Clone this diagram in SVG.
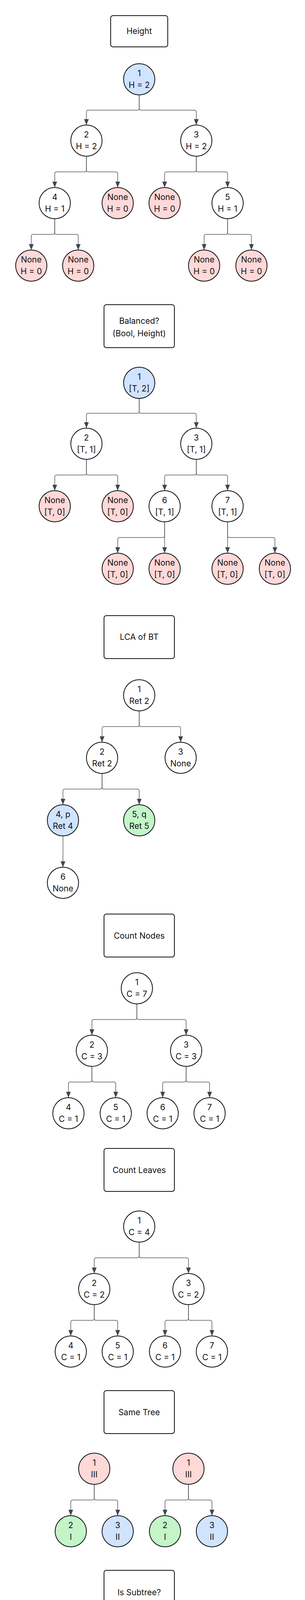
<svg xmlns="http://www.w3.org/2000/svg" width="780" height="4920" viewBox="0 0 780 4920">
<defs>
<style>
text{font-family:Inter,"Liberation Sans",sans-serif;font-size:21px;text-anchor:middle;fill:#111}
.n{fill:#fff;stroke:#111;stroke-width:2}
.b{fill:#d0e3ff}.p{fill:#ffd8d8}.g{fill:#c4f5c9}
.box{fill:#fff;stroke:#111;stroke-width:2}
.dk{fill:#6b7280;stroke:#222;stroke-width:2}
.w{fill:#fff}
.e{fill:none;stroke:#555b63;stroke-width:1.5}
.lbl{font-size:15px;font-weight:600;fill:#3a3f46}
</style>
<marker id="ah" viewBox="0 0 15 12" refX="15" refY="6" markerWidth="15" markerHeight="12" markerUnits="userSpaceOnUse" orient="auto">
<path d="M0,0 L15,6 L0,12 z" fill="#3f454d"/>
</marker>
</defs>
<rect width="780" height="4920" fill="#fff"/>

<g id="connectors">
<path class="e" marker-end="url(#ah)" d="M356,243 V277 Q356,282 351,282 H226 Q221,282 221,287 V320"/>
<path class="e" marker-end="url(#ah)" d="M356,243 V277 Q356,282 361,282 H497 Q502,282 502,287 V320"/>
<path class="e" marker-end="url(#ah)" d="M221,400 V435 Q221,440 216,440 H145 Q140,440 140,445 V480"/>
<path class="e" marker-end="url(#ah)" d="M221,400 V435 Q221,440 226,440 H296 Q301,440 301,445 V480"/>
<path class="e" marker-end="url(#ah)" d="M502,400 V435 Q502,440 497,440 H426 Q421,440 421,445 V480"/>
<path class="e" marker-end="url(#ah)" d="M502,400 V435 Q502,440 507,440 H577 Q582,440 582,445 V480"/>
<path class="e" marker-end="url(#ah)" d="M140,560 V595 Q140,600 135,600 H85 Q80,600 80,605 V640"/>
<path class="e" marker-end="url(#ah)" d="M140,560 V595 Q140,600 145,600 H195 Q200,600 200,605 V640"/>
<path class="e" marker-end="url(#ah)" d="M582,560 V595 Q582,600 577,600 H527 Q522,600 522,605 V640"/>
<path class="e" marker-end="url(#ah)" d="M582,560 V595 Q582,600 587,600 H638 Q643,600 643,605 V640"/>
<path class="e" marker-end="url(#ah)" d="M356,1020 V1053 Q356,1058 351,1058 H226 Q221,1058 221,1063 V1096"/>
<path class="e" marker-end="url(#ah)" d="M356,1020 V1053 Q356,1058 361,1058 H497 Q502,1058 502,1063 V1096"/>
<path class="e" marker-end="url(#ah)" d="M221,1176 V1211 Q221,1216 216,1216 H145 Q140,1216 140,1221 V1256"/>
<path class="e" marker-end="url(#ah)" d="M221,1176 V1211 Q221,1216 226,1216 H296 Q301,1216 301,1221 V1256"/>
<path class="e" marker-end="url(#ah)" d="M502,1176 V1211 Q502,1216 497,1216 H426 Q421,1216 421,1221 V1256"/>
<path class="e" marker-end="url(#ah)" d="M502,1176 V1211 Q502,1216 507,1216 H577 Q582,1216 582,1221 V1256"/>
<path class="e" marker-end="url(#ah)" d="M421,1336 V1371 Q421,1376 416,1376 H306 Q301,1376 301,1381 V1416"/>
<path class="e" marker-end="url(#ah)" d="M421,1336 V1416"/>
<path class="e" marker-end="url(#ah)" d="M582,1336 V1416"/>
<path class="e" marker-end="url(#ah)" d="M582,1336 V1371 Q582,1376 587,1376 H698 Q703,1376 703,1381 V1416"/>
<path class="e" marker-end="url(#ah)" d="M356,1820 V1855 Q356,1860 351,1860 H266 Q261,1860 261,1865 V1900"/>
<path class="e" marker-end="url(#ah)" d="M356,1820 V1855 Q356,1860 361,1860 H457 Q462,1860 462,1865 V1900"/>
<path class="e" marker-end="url(#ah)" d="M261,1980 V2015 Q261,2020 256,2020 H166 Q161,2020 161,2025 V2060"/>
<path class="e" marker-end="url(#ah)" d="M261,1980 V2015 Q261,2020 266,2020 H351 Q356,2020 356,2025 V2060"/>
<path class="e" marker-end="url(#ah)" d="M161,2140 V2220"/>
<path class="e" marker-end="url(#ah)" d="M350,2570 V2605 Q350,2610 345,2610 H240 Q235,2610 235,2615 V2650"/>
<path class="e" marker-end="url(#ah)" d="M350,2570 V2605 Q350,2610 355,2610 H471 Q476,2610 476,2615 V2650"/>
<path class="e" marker-end="url(#ah)" d="M235,2730 V2765 Q235,2770 230,2770 H180 Q175,2770 175,2775 V2810"/>
<path class="e" marker-end="url(#ah)" d="M235,2730 V2765 Q235,2770 240,2770 H291 Q296,2770 296,2775 V2810"/>
<path class="e" marker-end="url(#ah)" d="M476,2730 V2765 Q476,2770 471,2770 H421 Q416,2770 416,2775 V2810"/>
<path class="e" marker-end="url(#ah)" d="M476,2730 V2765 Q476,2770 481,2770 H531 Q536,2770 536,2775 V2810"/>
<path class="e" marker-end="url(#ah)" d="M356,3180 V3215 Q356,3220 351,3220 H246 Q241,3220 241,3225 V3260"/>
<path class="e" marker-end="url(#ah)" d="M356,3180 V3215 Q356,3220 361,3220 H477 Q482,3220 482,3225 V3260"/>
<path class="e" marker-end="url(#ah)" d="M241,3340 V3375 Q241,3380 236,3380 H186 Q181,3380 181,3385 V3420"/>
<path class="e" marker-end="url(#ah)" d="M241,3340 V3375 Q241,3380 246,3380 H296 Q301,3380 301,3385 V3420"/>
<path class="e" marker-end="url(#ah)" d="M482,3340 V3375 Q482,3380 477,3380 H427 Q422,3380 422,3385 V3420"/>
<path class="e" marker-end="url(#ah)" d="M482,3340 V3375 Q482,3380 487,3380 H537 Q542,3380 542,3385 V3420"/>
<path class="e" marker-end="url(#ah)" d="M241,3800 V3835 Q241,3840 236,3840 H186 Q181,3840 181,3845 V3880"/>
<path class="e" marker-end="url(#ah)" d="M241,3800 V3835 Q241,3840 246,3840 H296 Q301,3840 301,3845 V3880"/>
<path class="e" marker-end="url(#ah)" d="M482,3800 V3835 Q482,3840 477,3840 H427 Q422,3840 422,3845 V3880"/>
<path class="e" marker-end="url(#ah)" d="M482,3800 V3835 Q482,3840 487,3840 H537 Q542,3840 542,3845 V3880"/>
<path class="e" marker-end="url(#ah)" d="M356,4260 V4295 Q356,4300 351,4300 H240 Q235,4300 235,4305 V4340"/>
<path class="e" marker-end="url(#ah)" d="M356,4260 V4295 Q356,4300 361,4300 H471 Q476,4300 476,4305 V4340"/>
<path class="e" marker-end="url(#ah)" d="M235,4420 V4455 Q235,4460 230,4460 H166 Q161,4460 161,4465 V4500"/>
<path class="e" marker-end="url(#ah)" d="M235,4420 V4455 Q235,4460 240,4460 H286 Q291,4460 291,4465 V4500"/>
<path class="e" marker-end="url(#ah)" d="M476,4420 V4455 Q476,4460 471,4460 H427 Q422,4460 422,4465 V4500"/>
<path class="e" marker-end="url(#ah)" d="M476,4420 V4455 Q476,4460 481,4460 H547 Q552,4460 552,4465 V4500"/>
<path class="e" marker-end="url(#ah)" d="M356,4720 V4755 Q356,4760 351,4760 H306 Q301,4760 301,4765 V4800"/>
<path class="e" marker-end="url(#ah)" d="M356,4720 V4755 Q356,4760 361,4760 H426 Q431,4760 431,4765 V4800"/>
<path class="e" marker-end="url(#ah)" d="M516,4380 H617 Q622,4380 622,4385 V4675 Q622,4680 617,4680 H397"/>
<rect x="546" y="4370" width="38" height="20" fill="#fff"/>
<text class="lbl" x="565" y="4385">root</text>
<rect x="455" y="4670" width="94" height="20" fill="#fff"/>
<text class="lbl" x="502" y="4685">Same Tree</text>
</g>

<g id="title-height"><rect class="box" x="283" y="40" width="146" height="80" rx="6"/><text x="356" y="87">Height</text></g>
<g id="h1"><circle class="n b" cx="356" cy="203" r="40"/><text x="356" y="195">1</text><text x="356" y="225">H = 2</text></g>
<g id="h2"><circle class="n" cx="221" cy="360" r="40"/><text x="221" y="352">2</text><text x="221" y="382">H = 2</text></g>
<g id="h3"><circle class="n" cx="502" cy="360" r="40"/><text x="502" y="352">3</text><text x="502" y="382">H = 2</text></g>
<g id="h4"><circle class="n" cx="140" cy="520" r="40"/><text x="140" y="512">4</text><text x="140" y="542">H = 1</text></g>
<g id="h2r"><circle class="n p" cx="301" cy="520" r="40"/><text x="301" y="512">None</text><text x="301" y="542">H = 0</text></g>
<g id="h3l"><circle class="n p" cx="421" cy="520" r="40"/><text x="421" y="512">None</text><text x="421" y="542">H = 0</text></g>
<g id="h5"><circle class="n" cx="582" cy="520" r="40"/><text x="582" y="512">5</text><text x="582" y="542">H = 1</text></g>
<g id="h4l"><circle class="n p" cx="80" cy="680" r="40"/><text x="80" y="672">None</text><text x="80" y="702">H = 0</text></g>
<g id="h4r"><circle class="n p" cx="200" cy="680" r="40"/><text x="200" y="672">None</text><text x="200" y="702">H = 0</text></g>
<g id="h5l"><circle class="n p" cx="522" cy="680" r="40"/><text x="522" y="672">None</text><text x="522" y="702">H = 0</text></g>
<g id="h5r"><circle class="n p" cx="643" cy="680" r="40"/><text x="643" y="672">None</text><text x="643" y="702">H = 0</text></g>

<g id="title-balanced"><rect class="box" x="266" y="780" width="180" height="110" rx="6"/><text x="356" y="829">Balanced?</text><text x="356" y="861">(Bool, Height)</text></g>
<g id="b1"><circle class="n b" cx="356" cy="980" r="40"/><text x="356" y="972">1</text><text x="356" y="1002">[T, 2]</text></g>
<g id="b2"><circle class="n" cx="221" cy="1136" r="40"/><text x="221" y="1128">2</text><text x="221" y="1158">[T, 1]</text></g>
<g id="b3"><circle class="n" cx="502" cy="1136" r="40"/><text x="502" y="1128">3</text><text x="502" y="1158">[T, 1]</text></g>
<g id="b2l"><circle class="n p" cx="140" cy="1296" r="40"/><text x="140" y="1288">None</text><text x="140" y="1318">[T, 0]</text></g>
<g id="b2r"><circle class="n p" cx="301" cy="1296" r="40"/><text x="301" y="1288">None</text><text x="301" y="1318">[T, 0]</text></g>
<g id="b6"><circle class="n" cx="421" cy="1296" r="40"/><text x="421" y="1288">6</text><text x="421" y="1318">[T, 1]</text></g>
<g id="b7"><circle class="n" cx="582" cy="1296" r="40"/><text x="582" y="1288">7</text><text x="582" y="1318">[T, 1]</text></g>
<g id="b6l"><circle class="n p" cx="301" cy="1456" r="40"/><text x="301" y="1448">None</text><text x="301" y="1478">[T, 0]</text></g>
<g id="b6r"><circle class="n p" cx="421" cy="1456" r="40"/><text x="421" y="1448">None</text><text x="421" y="1478">[T, 0]</text></g>
<g id="b7l"><circle class="n p" cx="582" cy="1456" r="40"/><text x="582" y="1448">None</text><text x="582" y="1478">[T, 0]</text></g>
<g id="b7r"><circle class="n p" cx="703" cy="1456" r="40"/><text x="703" y="1448">None</text><text x="703" y="1478">[T, 0]</text></g>

<g id="title-lca"><rect class="box" x="266" y="1576" width="180" height="110" rx="6"/><text x="356" y="1638">LCA of BT</text></g>
<g id="l1"><circle class="n" cx="356" cy="1780" r="40"/><text x="356" y="1772">1</text><text x="356" y="1802">Ret 2</text></g>
<g id="l2"><circle class="n" cx="261" cy="1940" r="40"/><text x="261" y="1932">2</text><text x="261" y="1962">Ret 2</text></g>
<g id="l3"><circle class="n" cx="462" cy="1940" r="40"/><text x="462" y="1932">3</text><text x="462" y="1962">None</text></g>
<g id="l4"><circle class="n b" cx="161" cy="2100" r="40"/><text x="161" y="2092">4, p</text><text x="161" y="2122">Ret 4</text></g>
<g id="l5"><circle class="n g" cx="356" cy="2100" r="40"/><text x="356" y="2092">5, q</text><text x="356" y="2122">Ret 5</text></g>
<g id="l6"><circle class="n" cx="161" cy="2260" r="40"/><text x="161" y="2252">6</text><text x="161" y="2282">None</text></g>

<g id="title-count-nodes"><rect class="box" x="266" y="2340" width="180" height="110" rx="6"/><text x="356" y="2403">Count Nodes</text></g>
<g id="c1"><circle class="n" cx="350" cy="2530" r="40"/><text x="350" y="2522">1</text><text x="350" y="2552">C = 7</text></g>
<g id="c2"><circle class="n" cx="235" cy="2690" r="40"/><text x="235" y="2682">2</text><text x="235" y="2712">C = 3</text></g>
<g id="c3"><circle class="n" cx="476" cy="2690" r="40"/><text x="476" y="2682">3</text><text x="476" y="2712">C = 3</text></g>
<g id="c4"><circle class="n" cx="175" cy="2850" r="40"/><text x="175" y="2842">4</text><text x="175" y="2872">C = 1</text></g>
<g id="c5"><circle class="n" cx="296" cy="2850" r="40"/><text x="296" y="2842">5</text><text x="296" y="2872">C = 1</text></g>
<g id="c6"><circle class="n" cx="416" cy="2850" r="40"/><text x="416" y="2842">6</text><text x="416" y="2872">C = 1</text></g>
<g id="c7"><circle class="n" cx="536" cy="2850" r="40"/><text x="536" y="2842">7</text><text x="536" y="2872">C = 1</text></g>

<g id="title-count-leaves"><rect class="box" x="266" y="2940" width="180" height="110" rx="6"/><text x="356" y="3003">Count Leaves</text></g>
<g id="cl1"><circle class="n" cx="356" cy="3140" r="40"/><text x="356" y="3132">1</text><text x="356" y="3162">C = 4</text></g>
<g id="cl2"><circle class="n" cx="241" cy="3300" r="40"/><text x="241" y="3292">2</text><text x="241" y="3322">C = 2</text></g>
<g id="cl3"><circle class="n" cx="482" cy="3300" r="40"/><text x="482" y="3292">3</text><text x="482" y="3322">C = 2</text></g>
<g id="cl4"><circle class="n" cx="181" cy="3460" r="40"/><text x="181" y="3452">4</text><text x="181" y="3482">C = 1</text></g>
<g id="cl5"><circle class="n" cx="301" cy="3460" r="40"/><text x="301" y="3452">5</text><text x="301" y="3482">C = 1</text></g>
<g id="cl6"><circle class="n" cx="422" cy="3460" r="40"/><text x="422" y="3452">6</text><text x="422" y="3482">C = 1</text></g>
<g id="cl7"><circle class="n" cx="542" cy="3460" r="40"/><text x="542" y="3452">7</text><text x="542" y="3482">C = 1</text></g>

<g id="title-same-tree"><rect class="box" x="266" y="3560" width="180" height="110" rx="6"/><text x="356" y="3623">Same Tree</text></g>
<g id="sa1"><circle class="n p" cx="241" cy="3760" r="40"/><text x="241" y="3752">1</text><text x="241" y="3782">III</text></g>
<g id="sa2"><circle class="n g" cx="181" cy="3920" r="40"/><text x="181" y="3912">2</text><text x="181" y="3942">I</text></g>
<g id="sa3"><circle class="n b" cx="301" cy="3920" r="40"/><text x="301" y="3912">3</text><text x="301" y="3942">II</text></g>
<g id="sb1"><circle class="n p" cx="482" cy="3760" r="40"/><text x="482" y="3752">1</text><text x="482" y="3782">III</text></g>
<g id="sb2"><circle class="n g" cx="422" cy="3920" r="40"/><text x="422" y="3912">2</text><text x="422" y="3942">I</text></g>
<g id="sb3"><circle class="n b" cx="542" cy="3920" r="40"/><text x="542" y="3912">3</text><text x="542" y="3942">II</text></g>

<g id="title-is-subtree"><rect class="box" x="266" y="4020" width="180" height="110" rx="6"/><text x="356" y="4084">Is Subtree?</text></g>
<g id="p-root"><rect class="dk" x="182" y="4182" width="74" height="75" rx="6"/><text class="w" x="219" y="4210">P</text><text class="w" x="219" y="4243">root</text></g>
<g id="t1"><circle class="n" cx="356" cy="4220" r="40"/><text x="356" y="4212">1</text><text x="356" y="4242">VII</text></g>
<g id="t2"><circle class="n" cx="235" cy="4380" r="40"/><text x="235" y="4372">2</text><text x="235" y="4402">III</text></g>
<g id="t3"><circle class="n g" cx="476" cy="4380" r="40"/><text x="476" y="4372">3</text><text x="476" y="4402">VI</text></g>
<g id="t4"><circle class="n" cx="161" cy="4540" r="40"/><text x="161" y="4532">4</text><text x="161" y="4562">I</text></g>
<g id="t5"><circle class="n" cx="291" cy="4540" r="40"/><text x="291" y="4532">5</text><text x="291" y="4562">II</text></g>
<g id="t6"><circle class="n g" cx="422" cy="4540" r="40"/><text x="422" y="4532">6</text><text x="422" y="4562">IV</text></g>
<g id="t7"><circle class="n g" cx="552" cy="4540" r="40"/><text x="552" y="4532">7</text><text x="552" y="4562">V</text></g>
<g id="q-subroot"><rect class="dk" x="161" y="4640" width="95" height="80" rx="6"/><text class="w" x="208.5" y="4671">Q</text><text class="w" x="208.5" y="4704">subRoot</text></g>
<g id="s3"><circle class="n g" cx="356" cy="4680" r="40"/><text x="356" y="4672">3</text><text x="356" y="4702">III</text></g>
<g id="s6"><circle class="n g" cx="301" cy="4840" r="40"/><text x="301" y="4832">6</text><text x="301" y="4862">I</text></g>
<g id="s7"><circle class="n g" cx="431" cy="4840" r="40"/><text x="431" y="4832">7</text><text x="431" y="4862">II</text></g>
</svg>
